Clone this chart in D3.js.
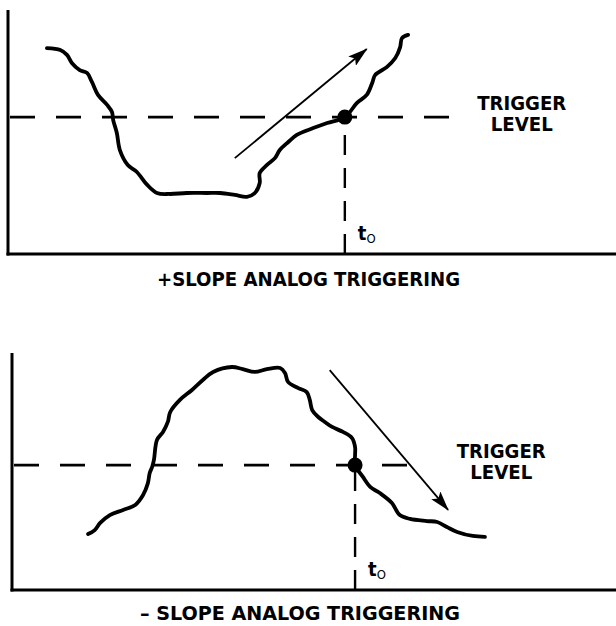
<!DOCTYPE html>
<html>
<head>
<meta charset="utf-8">
<script src="https://cdn.jsdelivr.net/npm/d3@7"></script>
<style>
  body { margin: 0; background: #fff; }
  svg { display: block; }
</style>
</head>
<body>
<div id="chart"></div>
<script>
// Signal samples: time runs 0-100 across each plot, amplitude 0-100 up it
var plusTime   = [6.4, 8.6, 9.7, 10.5, 11.8, 13.0, 13.8, 14.8, 16.3, 17.1, 17.3, 17.9, 18.4, 19.7, 21.2, 22.9, 24.5, 26.6, 29.4, 32.7, 34.9, 37.3, 39.3, 40.6, 41.4, 41.4, 42.6, 43.9, 44.7, 46.1, 47.5, 50.2, 52.5, 55.4, 57.4, 59.0, 59.9, 60.4, 62.3, 63.7, 64.5, 64.8, 65.8];
var plusSignal = [84.4, 83.6, 81.6, 78.3, 75.4, 74.2, 70.5, 65.2, 61.1, 58.2, 54.9, 49.6, 42.6, 36.5, 33.6, 28.3, 25.0, 24.6, 25.0, 25.0, 25.0, 24.2, 23.4, 25.0, 29.1, 33.2, 36.5, 39.3, 42.6, 45.9, 48.8, 51.6, 53.7, 56.1, 61.9, 65.2, 70.1, 73.4, 76.6, 80.3, 84.8, 88.5, 89.8];

var minusTime   = [12.6, 13.7, 14.6, 16.2, 18.4, 20.4, 21.7, 22.5, 22.8, 23.2, 23.5, 24.0, 25.0, 25.8, 26.2, 27.8, 29.8, 31.6, 33.3, 36.4, 38.2, 40.2, 42.2, 44.4, 45.2, 45.7, 47.4, 48.8, 49.3, 49.7, 50.7, 51.8, 53.0, 54.8, 56.3, 56.8, 56.8, 56.8, 58.1, 59.3, 60.9, 62.9, 64.2, 65.9, 68.7, 70.4, 72.0, 73.7, 76.3, 78.3];
var minusSignal = [23.6, 25.3, 28.3, 31.6, 33.8, 35.9, 40.1, 45.1, 49.4, 51.9, 54.9, 63.3, 66.7, 70.9, 75.1, 80.2, 84.4, 88.6, 92.0, 94.1, 93.2, 92.0, 93.2, 93.7, 91.6, 87.8, 85.2, 83.5, 80.2, 75.9, 73.0, 70.9, 68.8, 66.7, 64.1, 60.3, 57.0, 52.7, 47.7, 43.5, 40.9, 36.7, 31.6, 30.0, 29.1, 28.7, 26.6, 24.5, 22.8, 22.4];

var triggerLevel = [56.1, 52.7];
var triggerTime  = [55.4, 56.8];
var triggerLineEnd = [74.0, 67.9];

// slope arrows: [start, end]
var arrowTime   = [[37.3, 59.0], [52.6, 72.2]];
var arrowSignal = [[39.3, 84.0], [92.8, 33.8]];

var captions = ["+SLOPE ANALOG TRIGGERING", "\u2013 SLOPE ANALOG TRIGGERING"];
var levelLabel = ["TRIGGER", "LEVEL"];

var width = 616, height = 626;
var font = "'Liberation Sans Narrow', 'DejaVu Sans Condensed', 'Liberation Sans', sans-serif";

var panels = [
  { left: 8,  right: 616, top: 10,  bottom: 254, time: plusTime,  signal: plusSignal,
    labelT: 84.5, captionX: 157, captionW: 303, captionY: 286 },
  { left: 12, right: 616, top: 353, bottom: 590, time: minusTime, signal: minusSignal,
    labelT: 81.0, captionX: 140, captionW: 320, captionY: 620 }
];

var svg = d3.select("#chart")
  .append("svg")
  .attr("width", width)
  .attr("height", height);

var defs = svg.append("defs");
defs.append("marker")
  .attr("id", "head")
  .attr("viewBox", "0 0 20 12")
  .attr("refX", 19)
  .attr("refY", 6)
  .attr("markerWidth", 20)
  .attr("markerHeight", 12)
  .attr("markerUnits", "userSpaceOnUse")
  .attr("orient", "auto")
  .append("path")
  .attr("d", "M0,0 L20,6 L0,12 L4,6 Z")
  .attr("fill", "#000");

panels.forEach(function(p, i) {
  var x = d3.scaleLinear().domain([0, 100]).range([p.left, p.right]);
  var y = d3.scaleLinear().domain([0, 100]).range([p.bottom, p.top]);
  var g = svg.append("g");

  // axes
  g.append("line")
    .attr("x1", x(0)).attr("x2", x(0))
    .attr("y1", y(100)).attr("y2", y(0) + 1.5)
    .attr("stroke", "#000").attr("stroke-width", 3);
  g.append("line")
    .attr("x1", x(0) - 1.5).attr("x2", x(100))
    .attr("y1", y(0)).attr("y2", y(0))
    .attr("stroke", "#000").attr("stroke-width", 3);

  // trigger level (dashed)
  g.append("line")
    .attr("x1", x(0) + 2).attr("x2", x(triggerLineEnd[i]))
    .attr("y1", y(triggerLevel[i])).attr("y2", y(triggerLevel[i]))
    .attr("stroke", "#000").attr("stroke-width", 2.6)
    .attr("stroke-dasharray", "25,21");

  // t0 marker (dashed, drawn up from the axis)
  g.append("line")
    .attr("x1", x(triggerTime[i])).attr("x2", x(triggerTime[i]))
    .attr("y1", y(0)).attr("y2", y(triggerLevel[i]))
    .attr("stroke", "#000").attr("stroke-width", 2.4)
    .attr("stroke-dasharray", "20,13");

  // signal
  var pts = p.time.map(function(t, k) { return [t, p.signal[k]]; });
  var line = d3.line()
    .x(function(d) { return x(d[0]); })
    .y(function(d) { return y(d[1]); })
    .curve(d3.curveCatmullRom.alpha(0.5));
  g.append("path")
    .attr("d", line(pts))
    .attr("fill", "none")
    .attr("stroke", "#000")
    .attr("stroke-width", 3.8)
    .attr("stroke-linecap", "round")
    .attr("stroke-linejoin", "round");

  // trigger point
  g.append("circle")
    .attr("cx", x(triggerTime[i]))
    .attr("cy", y(triggerLevel[i]))
    .attr("r", 7.5)
    .attr("fill", "#000");

  // slope arrow
  g.append("line")
    .attr("x1", x(arrowTime[i][0])).attr("y1", y(arrowSignal[i][0]))
    .attr("x2", x(arrowTime[i][1])).attr("y2", y(arrowSignal[i][1]))
    .attr("stroke", "#000").attr("stroke-width", 1.8)
    .attr("marker-end", "url(#head)");

  // TRIGGER / LEVEL
  var lx = x(p.labelT), ly = y(triggerLevel[i]);
  g.append("text")
    .attr("x", lx).attr("y", ly - 7)
    .attr("text-anchor", "middle")
    .attr("textLength", 89).attr("lengthAdjust", "spacingAndGlyphs")
    .style("font-family", font).style("font-weight", "bold").style("font-size", "19px")
    .text(levelLabel[0]);
  g.append("text")
    .attr("x", lx).attr("y", ly + 14)
    .attr("text-anchor", "middle")
    .attr("textLength", 62).attr("lengthAdjust", "spacingAndGlyphs")
    .style("font-family", font).style("font-weight", "bold").style("font-size", "19px")
    .text(levelLabel[1]);

  // t0
  var t0 = g.append("text")
    .attr("x", x(triggerTime[i]) + 13)
    .attr("y", y(0) - 14)
    .style("font-family", font).style("font-weight", "bold").style("font-size", "20px");
  t0.append("tspan").text("t");
  t0.append("tspan").attr("dy", 3).style("font-size", "13px").style("font-weight", "normal").text("O");

  // caption
  svg.append("text")
    .attr("x", p.captionX).attr("y", p.captionY)
    .attr("textLength", p.captionW).attr("lengthAdjust", "spacingAndGlyphs")
    .style("font-family", font).style("font-weight", "bold").style("font-size", "19px")
    .text(captions[i]);
});
</script>
</body>
</html>
